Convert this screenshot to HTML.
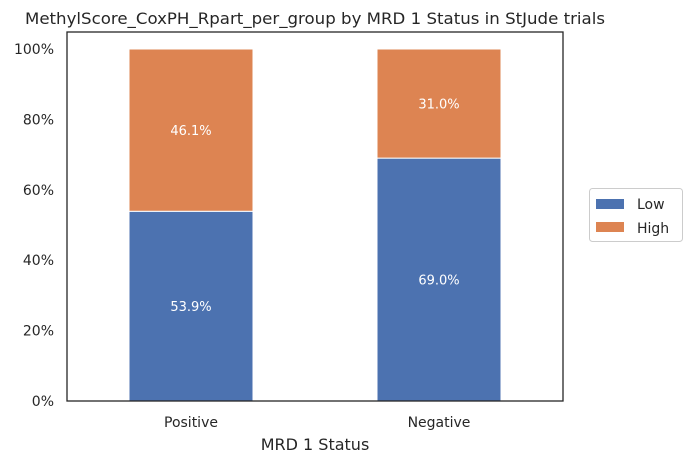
<!DOCTYPE html>
<html><head><meta charset="utf-8"><style>
body{margin:0;background:#fff;}
svg{display:block;font-family:"DejaVu Sans","Liberation Sans",sans-serif;}
</style></head><body>
<svg id="chart" width="689" height="463">
<text x="315" y="24" text-anchor="middle" font-size="16" textLength="580" lengthAdjust="spacingAndGlyphs" fill="#262626">MethylScore_CoxPH_Rpart_per_group by MRD 1 Status in StJude trials</text>
<g id="yticks"></g>
<g id="bars"></g>
<g id="xticks"></g>
<rect x="67" y="32" width="496" height="369" fill="none" stroke="#262626" stroke-width="1.3"/>
<text x="315" y="450" text-anchor="middle" font-size="16" fill="#262626">MRD 1 Status</text>
<g>
<rect x="589.5" y="188.5" width="93" height="53" rx="3" fill="#fff" stroke="#ccc"/>
<rect x="596" y="199" width="28" height="10" fill="#4c72b0"/>
<text x="637" y="209" font-size="14" fill="#262626">Low</text>
<rect x="596" y="222" width="28" height="10" fill="#dd8452"/>
<text x="637" y="233" font-size="14" fill="#262626">High</text>
</g>
</svg>
<script>
const categories=["Positive","Negative"];
const lowValues=[53.9,69.0];
const highValues=[46.1,31.0];
const yTickValues=[0,20,40,60,80,100];
const NS="http://www.w3.org/2000/svg";
function y(v){return 401-v*3.52;}
function x(i){return 67+248*(i+0.5);}
function mk(tag,attrs,parent,txt){const e=document.createElementNS(NS,tag);for(const k in attrs)e.setAttribute(k,attrs[k]);if(txt!==undefined)e.textContent=txt;parent.appendChild(e);return e;}
const yt=document.getElementById('yticks'),bars=document.getElementById('bars'),xt=document.getElementById('xticks');
yTickValues.forEach(v=>{
  const t=mk('text',{x:54,y:y(v)+5,'text-anchor':'end','font-size':14,fill:'#262626'},yt,v+'%');
  
  
});
categories.forEach((c,i)=>{
  const cx=x(i),w=124;
  const b1=mk('rect',{x:cx-w/2,y:y(lowValues[i]),width:w,height:y(0)-y(lowValues[i]),fill:'#4c72b0',stroke:'#fff','stroke-width':1},bars);
  
  
  const top=lowValues[i]+highValues[i];
  const b2=mk('rect',{x:cx-w/2,y:y(top),width:w,height:y(lowValues[i])-y(top),fill:'#dd8452',stroke:'#fff','stroke-width':1},bars);
  
  
  const l1=mk('text',{x:cx,y:y(lowValues[i]/2)+5,'text-anchor':'middle','font-size':13,fill:'#fff'},bars,lowValues[i].toFixed(1)+'%');
  
  
  const l2=mk('text',{x:cx,y:y(lowValues[i]+highValues[i]/2)+5,'text-anchor':'middle','font-size':13,fill:'#fff'},bars,highValues[i].toFixed(1)+'%');
  
  
  const xl=mk('text',{x:cx,y:427,'text-anchor':'middle','font-size':14,fill:'#262626'},xt,c);
  
  
});
</script>
</body></html>
